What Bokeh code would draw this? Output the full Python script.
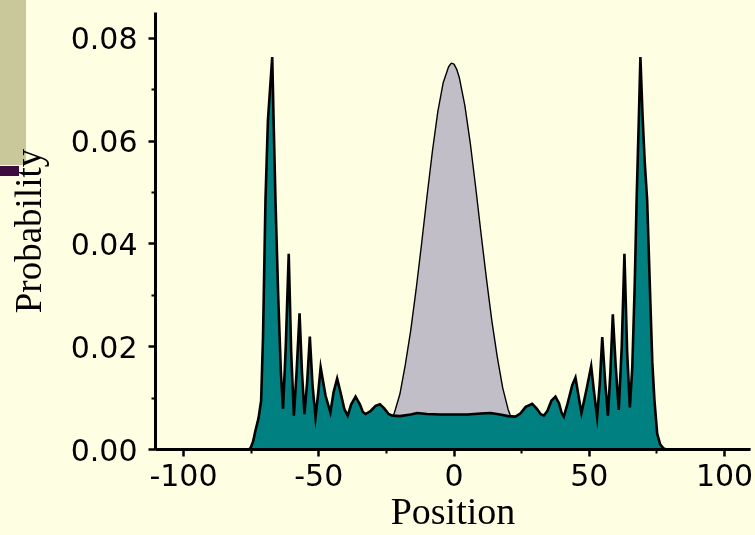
from bokeh.plotting import figure
from bokeh.models import Range1d, FixedTicker, GlobalInlineStyleSheet
from bokeh.embed import file_html
from bokeh.resources import INLINE

# ---- data ----
# classical random walk (grey)
gauss_x = [-40, -36, -32, -28, -26, -24, -22, -20, -18, -16, -14, -12, -10, -8, -6, -4, -2, -1,
           0, 1, 2, 4, 6, 8, 10, 12, 14, 16, 18, 20, 22, 24, 26, 28, 32, 36, 40]
gauss_y = [0.00003, 0.00015, 0.00058, 0.0018, 0.0030, 0.0048, 0.0072, 0.0108, 0.0165, 0.0232,
           0.0312, 0.0400, 0.0492, 0.0580, 0.0657, 0.0714, 0.0745, 0.0752, 0.0750, 0.0740, 0.0723, 0.0670,
           0.0597, 0.0511, 0.0420, 0.0332, 0.0250, 0.0180, 0.0120, 0.0078, 0.0050, 0.0032,
           0.0019, 0.0011, 0.00035, 0.00009, 0.00002]

# quantum walk (teal)
qw_x = [-110, -76, -75.2, -74.3, -73.4, -72.3, -71.3, -70.6, -69.7, -68.8, -67.2, -66.6, -66.0,
        -65.0, -64.0, -63.2, -62.2, -61.1, -60.2, -59.2, -58.2, -57.1, -56.2, -55.3, -54.3,
        -53.3, -52.3, -51.2, -50.2, -49.3, -47.5, -45.7, -44.5, -43.2, -41.9, -40.5, -39.3,
        -38.0, -36.4, -34.8, -33.7, -32.7, -31.0, -29.0, -27.4, -25.8, -24.2, -22.8,
        -20.0, -16.0, -13.6, -10.0, -5.0, 0.0, 5.0, 10.0, 13.5, 17.0, 20.0,
        22.7, 24.5, 26.5, 28.9, 30.5, 32.0, 33.2, 34.5, 36.0, 37.5, 38.8, 39.8, 40.6, 42.0,
        43.7, 44.9, 46.0, 47.1, 48.9, 50.7, 51.8, 52.9, 53.9, 54.8, 55.9, 56.9, 57.8,
        58.7, 59.8, 60.9, 62.0, 63.0, 64.0, 65.0, 65.9, 66.8, 67.5, 68.3, 68.9, 69.7, 70.5,
        71.4, 72.5, 73.3, 74.1, 75.1, 76.2, 77.5, 78.5, 110]
qw_y = [0.0, 0.0, 0.0003, 0.0015, 0.0037, 0.0060, 0.0095, 0.0220, 0.0485, 0.0640, 0.0764, 0.0620, 0.0485,
        0.0300, 0.0150, 0.0079, 0.0200, 0.0381, 0.0190, 0.0066, 0.0150, 0.0265, 0.0150, 0.0069, 0.0130,
        0.0220, 0.0125, 0.0063, 0.0110, 0.0160, 0.0105, 0.0072, 0.0112, 0.0138, 0.0110, 0.0078, 0.0066,
        0.0088, 0.0103, 0.0088, 0.0073, 0.0069, 0.0074, 0.0085, 0.0088, 0.0080, 0.0069, 0.0066,
        0.0065, 0.0068, 0.0071, 0.0069, 0.0068, 0.0068, 0.0068, 0.0070, 0.0071, 0.0068, 0.0065,
        0.0064, 0.0070, 0.0083, 0.0089, 0.0080, 0.0069, 0.0066, 0.0075, 0.0095, 0.0103, 0.0090, 0.0071, 0.0064, 0.0090,
        0.0125, 0.0140, 0.0105, 0.0071, 0.0115, 0.0162, 0.0110, 0.0063, 0.0130, 0.0219, 0.0130, 0.0066, 0.0150,
        0.0263, 0.0160, 0.0077, 0.0200, 0.0381, 0.0190, 0.0082, 0.0160, 0.0320, 0.0485, 0.0640, 0.0764, 0.0650, 0.0560,
        0.0485, 0.0300, 0.0170, 0.0095, 0.0031, 0.0010, 0.0002, 0.0, 0.0]

x_ticks = [-100, -50, 0, 50, 100]
x_minor = [-75, -25, 25, 75]
x_labels = ["-100", "-50", "0", "50", "100"]
y_ticks = [0.0, 0.02, 0.04, 0.06, 0.08]
y_minor = [0.01, 0.03, 0.05, 0.07]
y_labels = ["0.00", "0.02", "0.04", "0.06", "0.08"]

BG = "#FEFEE2"

p = figure(width=755, height=535, output_backend="svg", toolbar_location=None,
           x_range=Range1d(-110.35, 109.6), y_range=Range1d(0, 0.08506),
           min_border_left=155, min_border_right=5, min_border_top=12, min_border_bottom=86)

# page background and the two small slide decorations at the top-left corner
# (drawn behind the transparent plot border, so the axis title stays on top)
page_css = """
body { background-color: %s; }
body::before { content: ""; position: fixed; left: 0; top: 0; width: 26px; height: 165px;
               background: #C8C89B; z-index: -1; pointer-events: none; }
body::after  { content: ""; position: fixed; left: 0; top: 166px; width: 19px; height: 10px;
               background: #3C0C3E; z-index: -1; pointer-events: none; }
""" % BG
p.stylesheets = [GlobalInlineStyleSheet(css=page_css)]

p.background_fill_color = BG
p.border_fill_color = BG
p.border_fill_alpha = 0
p.outline_line_color = None
p.xgrid.visible = False
p.ygrid.visible = False

# grey classical distribution
p.varea(x=gauss_x, y1=0, y2=gauss_y, fill_color="#C1BEC8")
p.line(x=gauss_x, y=gauss_y, line_color="black", line_width=1.4)

# teal quantum distribution
p.varea(x=qw_x, y1=0, y2=qw_y, fill_color="#008080")
p.line(x=qw_x, y=qw_y, line_color="black", line_width=2.6, line_join="miter")

for ax in (p.xaxis[0], p.yaxis[0]):
    ax.axis_line_width = 3
    ax.axis_line_color = "black"
    ax.major_tick_line_width = 2.5
    ax.minor_tick_line_width = 2
    ax.major_tick_in = 0
    ax.major_tick_out = 7
    ax.minor_tick_in = 0
    ax.minor_tick_out = 4
    ax.major_label_text_font = "DejaVu Sans"
    ax.major_label_text_font_size = "30px"
    ax.major_label_text_color = "black"
    ax.axis_label_text_font = "Liberation Serif"
    ax.axis_label_text_font_style = "normal"
    ax.axis_label_text_color = "black"

p.xaxis[0].ticker = FixedTicker(ticks=x_ticks, minor_ticks=x_minor)
p.xaxis[0].major_label_overrides = {t: l for t, l in zip(x_ticks, x_labels)}
p.xaxis[0].major_label_standoff = 7
p.xaxis[0].axis_label = "Position"
p.xaxis[0].axis_label_text_font_size = "38px"
p.xaxis[0].axis_label_standoff = 1

p.yaxis[0].ticker = FixedTicker(ticks=y_ticks, minor_ticks=y_minor)
p.yaxis[0].major_label_overrides = {t: l for t, l in zip(y_ticks, y_labels)}
p.yaxis[0].major_label_standoff = 11
p.yaxis[0].axis_label = "Probability"
p.yaxis[0].axis_label_text_font_size = "37px"
p.yaxis[0].axis_label_standoff = 19

open("out.html", "w").write(file_html(p, INLINE))
